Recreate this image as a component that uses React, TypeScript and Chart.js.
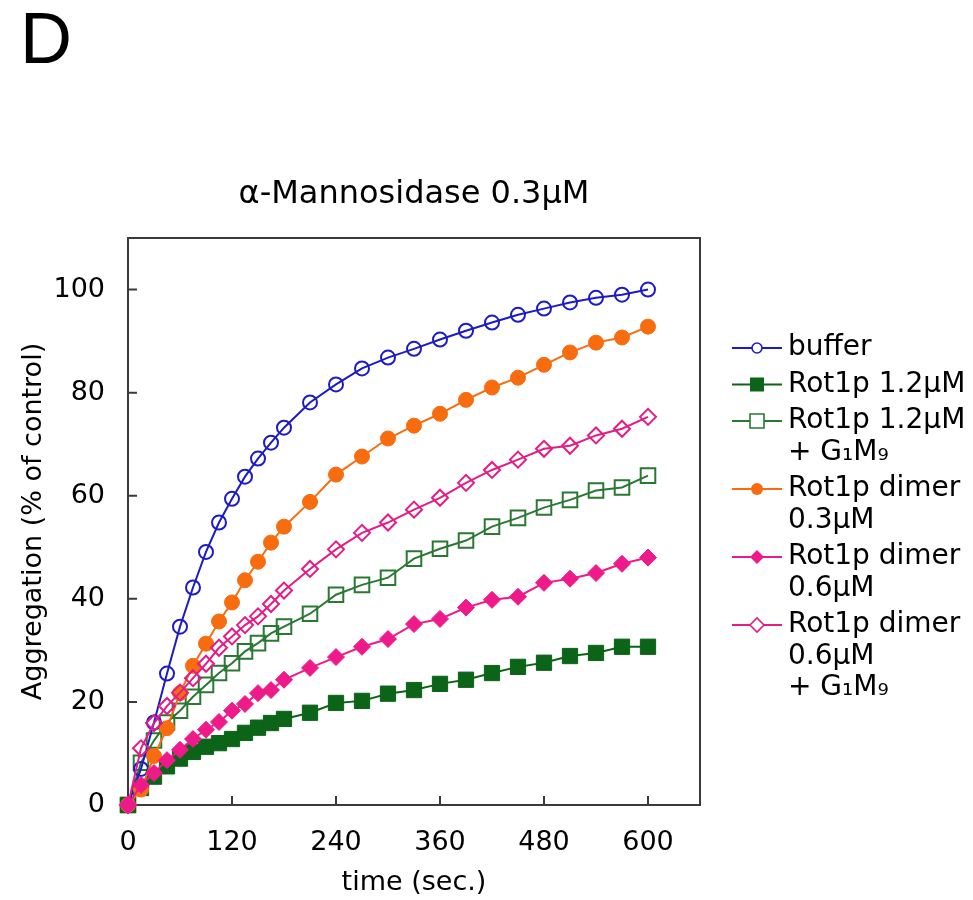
import React, { useEffect, useRef } from 'react';
import { Chart, registerables } from 'chart.js';

Chart.register(...registerables);

const times = [0, 15, 30, 45, 60, 75, 90, 105, 120, 135, 150, 165, 180, 210, 240, 270, 300, 330, 360, 390, 420, 450, 480, 510, 540, 570, 600];

const bufferVals = [0, 7, 16, 25.5, 34.6, 42.2, 49.1, 54.8, 59.4, 63.7, 67.2, 70.3, 73.2, 78.1, 81.6, 84.7, 86.8, 88.5, 90.3, 92.0, 93.6, 95.1, 96.3, 97.5, 98.4, 99.0, 100];
const rot12Vals = [0, 3.3, 5.5, 7.5, 9.0, 10.3, 11.3, 12.0, 12.8, 14.0, 15.0, 15.9, 16.7, 17.9, 19.8, 20.2, 21.6, 22.3, 23.5, 24.3, 25.6, 26.8, 27.6, 28.9, 29.5, 30.7, 30.7];
const rot12GVals = [0, 8.2, 12.5, 16.0, 18.3, 21.0, 23.3, 25.6, 27.5, 29.8, 31.4, 33.3, 34.6, 37.1, 40.8, 42.7, 44.1, 47.8, 49.7, 51.3, 54.0, 55.7, 57.7, 59.2, 61.0, 61.6, 63.9];
const dimer03Vals = [0, 3, 9.5, 14.9, 21.7, 27.0, 31.3, 35.6, 39.3, 43.6, 47.2, 50.9, 54.0, 58.8, 64.1, 67.6, 71.1, 73.6, 75.9, 78.6, 81.0, 82.9, 85.4, 87.8, 89.7, 90.7, 92.8];
const dimer06Vals = [0, 3.9, 6.2, 8.7, 10.7, 12.8, 14.6, 16.1, 18.3, 19.6, 21.7, 22.3, 24.3, 26.6, 28.7, 30.7, 32.2, 35.1, 36.1, 38.3, 39.8, 40.4, 43.1, 43.9, 45.0, 46.8, 48.0];
const dimer06GVals = [0, 11, 15.9, 19.2, 21.8, 24.6, 27.4, 30.5, 32.7, 34.9, 36.6, 39.0, 41.6, 45.8, 49.6, 52.8, 54.8, 57.3, 59.6, 62.5, 65.0, 67.0, 69.1, 69.7, 71.7, 73.0, 75.3];

const xTicks = [0, 120, 240, 360, 480, 600];
const yTicks = [0, 20, 40, 60, 80, 100];

const legendLines = [
  ['buffer'],
  ['Rot1p 1.2µM'],
  ['Rot1p 1.2µM', '+ G₁M₉'],
  ['Rot1p dimer', '0.3µM'],
  ['Rot1p dimer', '0.6µM'],
  ['Rot1p dimer', '0.6µM', '+ G₁M₉'],
];

const FONT = "'DejaVu Sans', sans-serif";

type SeriesStyle = {
  color: string;
  style: 'circle' | 'rect' | 'rectRot';
  filled: boolean;
  radius: number;
  legendSize: number;
  order: number;
};

const styles: SeriesStyle[] = [
  { color: '#1c1cc4', style: 'circle', filled: false, radius: 7, legendSize: 5, order: 3 },
  { color: '#0b6417', style: 'rect', filled: true, radius: 10.8, legendSize: 7, order: 4 },
  { color: '#2a7833', style: 'rect', filled: false, radius: 10.3, legendSize: 7, order: 5 },
  { color: '#f86c10', style: 'circle', filled: true, radius: 7.5, legendSize: 6, order: 2 },
  { color: '#ee1a8a', style: 'rectRot', filled: true, radius: 8.5, legendSize: 7, order: 0 },
  { color: '#e21d86', style: 'rectRot', filled: false, radius: 8, legendSize: 7, order: 1 },
];

const seriesVals = [bufferVals, rot12Vals, rot12GVals, dimer03Vals, dimer06Vals, dimer06GVals];

function drawMarker(ctx: CanvasRenderingContext2D, s: SeriesStyle, x: number, y: number, r: number) {
  ctx.beginPath();
  if (s.style === 'circle') {
    ctx.arc(x, y, r, 0, Math.PI * 2);
  } else if (s.style === 'rect') {
    ctx.rect(x - r, y - r, 2 * r, 2 * r);
  } else {
    ctx.moveTo(x - r, y);
    ctx.lineTo(x, y - r);
    ctx.lineTo(x + r, y);
    ctx.lineTo(x, y + r);
    ctx.closePath();
  }
  if (s.filled) {
    ctx.fillStyle = s.color;
    ctx.fill();
  } else {
    ctx.fillStyle = '#ffffff';
    ctx.fill();
    ctx.strokeStyle = s.color;
    ctx.lineWidth = 1.6;
    ctx.stroke();
  }
}

const framePlugin = {
  id: 'framePlugin',
  beforeDatasetsDraw(chart: any) {
    const { ctx, chartArea } = chart;
    const xs = chart.scales.x;
    const ys = chart.scales.y;
    ctx.save();
    ctx.strokeStyle = '#3a3a3a';
    ctx.lineWidth = 2;
    ctx.strokeRect(chartArea.left, chartArea.top, chartArea.right - chartArea.left, chartArea.bottom - chartArea.top);
    ctx.beginPath();
    xTicks.forEach((v) => {
      if (v <= 0) return;
      const px = xs.getPixelForValue(v);
      ctx.moveTo(px, chartArea.bottom);
      ctx.lineTo(px, chartArea.bottom - 9);
    });
    yTicks.forEach((v) => {
      if (v <= 0) return;
      const py = ys.getPixelForValue(v);
      ctx.moveTo(chartArea.left, py);
      ctx.lineTo(chartArea.left + 9, py);
    });
    ctx.stroke();
    ctx.restore();
  },
  afterDraw(chart: any) {
    const { ctx, chartArea } = chart;
    ctx.save();
    // panel letter
    ctx.fillStyle = '#000';
    ctx.font = "72px 'Liberation Sans', sans-serif";
    ctx.textAlign = 'left';
    ctx.textBaseline = 'alphabetic';
    ctx.fillText('D', 20, 63);
    // title
    ctx.font = `32px ${FONT}`;
    ctx.textAlign = 'center';
    ctx.fillText('α-Mannosidase 0.3µM', (chartArea.left + chartArea.right) / 2, 203);
    // legend
    ctx.font = `28px ${FONT}`;
    ctx.textAlign = 'left';
    ctx.textBaseline = 'middle';
    let y = 348;
    legendLines.forEach((lines, i) => {
      const s = styles[i];
      ctx.strokeStyle = s.color;
      ctx.lineWidth = 1.8;
      ctx.beginPath();
      ctx.moveTo(732, y);
      ctx.lineTo(782, y);
      ctx.stroke();
      drawMarker(ctx, s, 757, y, s.legendSize);
      ctx.fillStyle = '#000';
      lines.forEach((t, j) => {
        ctx.fillText(t, 788, y + j * 31.5);
      });
      y += (lines.length - 1) * 31.5 + 36.5;
    });
    ctx.restore();
  },
};

export default function App() {
  const ref = useRef<HTMLCanvasElement>(null);
  useEffect(() => {
    if (!ref.current) return;
    const datasets = seriesVals.map((vals, i) => {
      const s = styles[i];
      return {
        label: legendLines[i].join(' '),
        data: times.map((t, k) => ({ x: t, y: vals[k] })),
        borderColor: s.color,
        borderWidth: 2,
        pointStyle: s.style,
        pointRadius: s.radius,
        pointHoverRadius: s.radius,
        pointBackgroundColor: s.filled ? s.color : 'rgba(255,255,255,0)',
        pointBorderColor: s.color,
        pointBorderWidth: s.filled ? 1 : 2,
        backgroundColor: s.color,
        fill: false,
        tension: 0,
        clip: false as any,
        order: s.order,
      };
    });
    const chart = new Chart(ref.current, {
      type: 'line',
      data: { datasets },
      plugins: [framePlugin],
      options: {
        animation: false,
        responsive: true,
        maintainAspectRatio: false,
        layout: { padding: { left: 0, top: 238, right: 273, bottom: 0 } },
        plugins: {
          legend: { display: false },
          title: { display: false },
          tooltip: { enabled: false },
        },
        scales: {
          x: {
            type: 'linear',
            min: 0,
            max: 660,
            grid: { display: false },
            border: { display: false },
            afterFit: (scale: any) => { scale.height = 95; },
            afterBuildTicks: (scale: any) => { scale.ticks = xTicks.map((v) => ({ value: v })); },
            ticks: {
              autoSkip: false,
              maxRotation: 0,
              padding: 14,
              color: '#000',
              font: { family: FONT, size: 27 },
              callback: (v: any) => String(v),
            },
            title: {
              display: true,
              text: 'time (sec.)',
              color: '#000',
              font: { family: FONT, size: 27 },
              padding: { top: 0, bottom: 1 },
            },
          },
          y: {
            type: 'linear',
            min: 0,
            max: 110,
            grid: { display: false },
            border: { display: false },
            afterFit: (scale: any) => { scale.width = 128; },
            afterBuildTicks: (scale: any) => { scale.ticks = yTicks.map((v) => ({ value: v })); },
            ticks: {
              autoSkip: false,
              padding: 15,
              color: '#000',
              font: { family: FONT, size: 27 },
              callback: (v: any) => String(v),
            },
            title: {
              display: true,
              text: 'Aggregation (% of control)',
              color: '#000',
              font: { family: FONT, size: 27 },
              padding: { top: 18, bottom: 0 },
            },
          },
        },
      },
    });
    return () => chart.destroy();
  }, []);
  return (
    <div style={{ position: 'absolute', left: 0, top: 0, width: 973, height: 900, background: '#ffffff' }}>
      <canvas ref={ref} />
    </div>
  );
}
